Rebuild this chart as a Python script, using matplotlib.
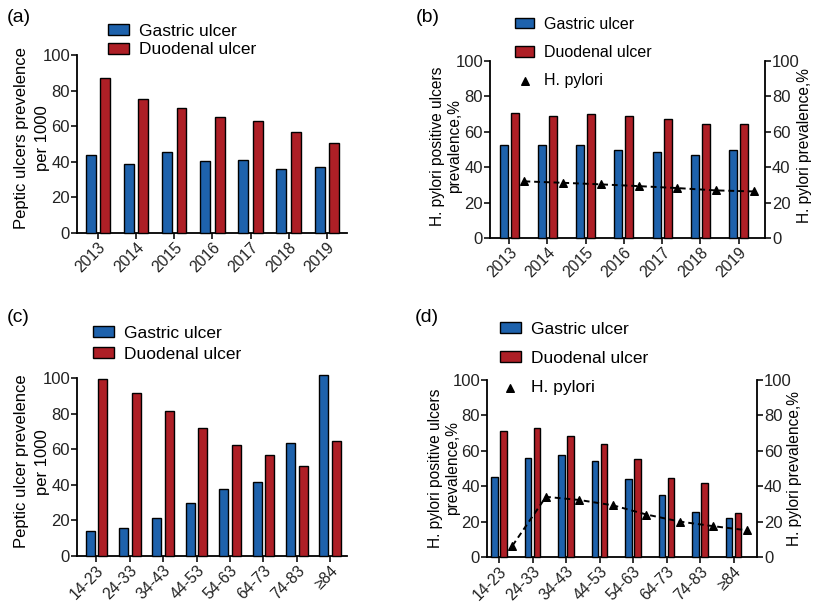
import matplotlib
matplotlib.use('Agg')
import matplotlib.pyplot as plt
import numpy as np

plt.rcParams['font.family'] = ['Liberation Sans', 'DejaVu Sans']

# ---------------- data ----------------
years = ['2013', '2014', '2015', '2016', '2017', '2018', '2019']
gastric_year = [43.9, 38.9, 45.6, 40.2, 40.9, 35.9, 37.2]
duodenal_year = [86.9, 75.5, 70.3, 65.0, 63.0, 56.6, 50.5]

hp_gastric_year = [52.6, 52.6, 52.3, 49.8, 48.5, 46.8, 49.8]
hp_duodenal_year = [70.5, 69.2, 70.1, 69.0, 67.1, 64.5, 64.3]
hp_prev_year = [32.0, 31.2, 30.3, 29.3, 28.2, 26.9, 26.3]

ages = ['14-23', '24-33', '34-43', '44-53', '54-63', '64-73', '74-83', '≥84']
gastric_age = [14.2, 15.7, 21.5, 29.9, 37.8, 41.4, 63.6, 101.5]
duodenal_age = [99.6, 91.4, 81.3, 72.1, 62.1, 56.7, 50.6, 64.6]

hp_gastric_age = [45.1, 55.8, 57.4, 54.5, 44.0, 34.9, 25.3, 22.1]
hp_duodenal_age = [71.1, 72.6, 68.1, 63.6, 55.1, 44.9, 41.9, 24.7]
hp_prev_age = [6.4, 34.0, 32.2, 29.2, 24.0, 20.0, 17.4, 15.1]

BLUE = '#1E62AC'
RED = '#AE1F26'
W, H = 814, 602

fig = plt.figure(figsize=(W / 100, H / 100), dpi=100)


def px_axes(left, right, top, bottom):
    return fig.add_axes([left / W, 1 - bottom / H, (right - left) / W, (bottom - top) / H])


def style(ax, right=False):
    for s in ['top', 'right', 'left', 'bottom']:
        ax.spines[s].set_visible(False)
    ax.spines['bottom'].set_visible(not right)
    ax.spines['left'].set_visible(not right)
    if right:
        ax.spines['right'].set_visible(True)
    for s in ax.spines.values():
        s.set_linewidth(1.3)
    ax.tick_params(direction='out', length=4, width=1.3, labelsize=12, pad=1, colors='#222222')
    ax.tick_params(axis='x', labelsize=11.3)
    ax.set_ylim(0, 100)
    ax.set_yticks([0, 20, 40, 60, 80, 100])


def bars(ax, labels, g, d, width, off, xlim):
    x = np.arange(len(labels))
    b1 = ax.bar(x - off, g, width, color=BLUE, edgecolor='black', linewidth=1.0,
                label='Gastric ulcer', clip_on=False, zorder=3)
    b2 = ax.bar(x + off, d, width, color=RED, edgecolor='black', linewidth=1.0,
                label='Duodenal ulcer', clip_on=False, zorder=3)
    ax.set_xticks(x)
    ax.set_xticklabels(labels, rotation=45, ha='right', rotation_mode='anchor')
    ax.set_xlim(*xlim)
    return x, b1, b2


def legend(handles, labels, x, y, fs, spacing):
    fig.legend(handles, labels, loc='upper left', bbox_to_anchor=(x / W, 1 - y / H),
               bbox_transform=fig.transFigure, frameon=False, fontsize=fs,
               handlelength=1.2, handleheight=0.6, handletextpad=0.6,
               labelspacing=spacing, borderpad=0, borderaxespad=0, scatterpoints=1)


def two_line_ylabel(ax, line1, line2, x1, x2, y, fs):
    ax.text(x1, y, line1, rotation=90, ha='center', va='center', fontsize=fs,
            transform=ax.transAxes)
    ax.text(x2, y, line2, rotation=90, ha='center', va='center', fontsize=fs,
            transform=ax.transAxes)


# ---------------- (a) ----------------
axa = px_axes(77, 347, 55, 233)
style(axa)
x, b1, b2 = bars(axa, years, gastric_year, duodenal_year, 0.26, 0.19, (-0.55, 6.53))
two_line_ylabel(axa, 'Peptic ulcers prevelence', 'per 1000', -0.205, -0.128, 0.535, 12)
legend([b1, b2], ['Gastric ulcer', 'Duodenal ulcer'], 108, 24, 12.5, 0.2)

# ---------------- (b) ----------------
axb = px_axes(490, 765, 61, 238)
style(axb)
x, b1, b2 = bars(axb, years, hp_gastric_year, hp_duodenal_year, 0.21, 0.145, (-0.5, 6.69))
axb.set_ylabel('H. pylori positive ulcers\nprevalence,%', fontsize=11.2)
axb.yaxis.set_label_coords(-0.1, 0.52)
axb2 = axb.twinx()
style(axb2, right=True)
axb2.plot(x + 0.4, hp_prev_year, ls=(0, (3, 2)), color='black', lw=1.4, zorder=4)
sc = axb2.scatter(x + 0.4, hp_prev_year, marker='^', s=30, color='black', zorder=5, label='H. pylori')
axb2.set_ylabel('H. pylori prevalence,%', fontsize=11.2)
axb2.yaxis.set_label_coords(1.115, 0.52)
legend([b1, b2, sc], ['Gastric ulcer', 'Duodenal ulcer', 'H. pylori'], 515, 17, 11.5, 0.82)

# ---------------- (c) ----------------
axc = px_axes(77, 347, 378, 556)
style(axc)
x, b1, b2 = bars(axc, ages, gastric_age, duodenal_age, 0.27, 0.19, (-0.58, 7.5))
two_line_ylabel(axc, 'Peptic ulcer prevelence', 'per 1000', -0.205, -0.128, 0.53, 12)
legend([b1, b2], ['Gastric ulcer', 'Duodenal ulcer'], 93, 326, 12.5, 0.32)

# ---------------- (d) ----------------
axd = px_axes(487, 757, 380, 557)
style(axd)
x, b1, b2 = bars(axd, ages, hp_gastric_age, hp_duodenal_age, 0.2, 0.135, (-0.36, 7.7))
axd.set_ylabel('H. pylori positive ulcers\nprevalence,%', fontsize=11.2)
axd.yaxis.set_label_coords(-0.1, 0.5)
axd2 = axd.twinx()
style(axd2, right=True)
axd2.plot(x + 0.4, hp_prev_age, ls=(0, (3, 2)), color='black', lw=1.4, zorder=4)
sc = axd2.scatter(x + 0.4, hp_prev_age, marker='^', s=30, color='black', zorder=5, label='H. pylori')
axd2.set_ylabel('H. pylori prevalence,%', fontsize=11.2)
axd2.yaxis.set_label_coords(1.11, 0.5)
legend([b1, b2, sc], ['Gastric ulcer', 'Duodenal ulcer', 'H. pylori'], 500, 322, 12.5, 0.8)

# panel letters
for lbl, (px, py) in {'(a)': (7, 9), '(b)': (416, 9), '(c)': (7, 309), '(d)': (415, 309)}.items():
    fig.text(px / W, 1 - py / H, lbl, fontsize=14, va='top', ha='left')

fig.savefig('out.png', dpi=100)
